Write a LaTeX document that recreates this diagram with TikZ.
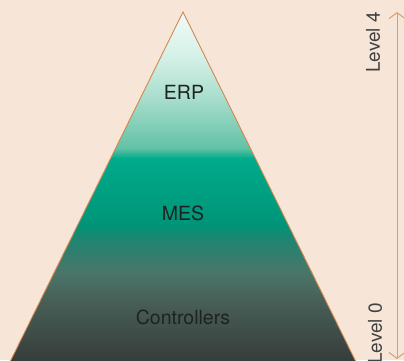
\documentclass[tikz,border=0pt]{standalone}
\usepackage{fontspec}
\setmainfont{TeX Gyre Heros}
\usetikzlibrary{arrows.meta}
\definecolor{bg}{RGB}{247,230,216}
\definecolor{edge}{RGB}{208,136,80}
\definecolor{arr}{RGB}{216,158,110}
\definecolor{txt}{RGB}{30,34,33}
\definecolor{g0}{RGB}{242,251,248}
\definecolor{g1}{RGB}{210,239,229}
\definecolor{g2}{RGB}{165,220,203}
\definecolor{g3}{RGB}{98,194,166}
\definecolor{g4}{RGB}{0,171,140}
\definecolor{g5}{RGB}{0,148,119}
\definecolor{g6}{RGB}{30,133,114}
\definecolor{g7}{RGB}{74,118,105}
\definecolor{g8}{RGB}{72,95,88}
\definecolor{g9}{RGB}{52,56,54}
\tikzset{
  lbl/.style={text=txt, font=\fontsize{19.5}{21}\selectfont, inner sep=0pt},
  lvl/.style={text=txt!85, font=\fontsize{19}{21}\selectfont, inner sep=0pt, rotate=90},
  band/.style={draw=none}
}
\begin{document}
\begin{tikzpicture}[x=1pt,y=-1pt]
\useasboundingbox (0,0) rectangle (404,360);
\fill[bg] (0,0) rectangle (404,360);
\coordinate (apex) at (183,12);
\coordinate (bl) at (7,368);
\coordinate (br) at (359,368);
\begin{scope}
\clip (apex) -- (bl) -- (br) -- cycle;
\shade[band, top color=g0, bottom color=g1] (0,11) rectangle (404,60.5);
\shade[band, top color=g1, bottom color=g2] (0,60) rectangle (404,100.5);
\shade[band, top color=g2, bottom color=g3] (0,100) rectangle (404,148.5);
\shade[band, top color=g3, bottom color=g4] (0,148) rectangle (404,158.5);
\shade[band, top color=g4, bottom color=g5] (0,158) rectangle (404,225.5);
\shade[band, top color=g5, bottom color=g6] (0,225) rectangle (404,238.5);
\shade[band, top color=g6, bottom color=g7] (0,238) rectangle (404,272.5);
\shade[band, top color=g7, bottom color=g8] (0,272) rectangle (404,300.5);
\shade[band, top color=g8, bottom color=g9] (0,300) rectangle (404,370);
\end{scope}
\draw[edge, line width=0.9pt, line join=miter] (bl) -- (apex) -- (br);
\node[lbl] (erp) at (184,92) {ERP};
\node[lbl] (mes) at (183,213) {MES};
\node[lbl] (ctl) at (183,317) {Controllers};
\coordinate (atop) at (397,12);
\coordinate (abot) at (397,359);
\draw[arr, line width=1pt, {Straight Barb[length=6pt,width=16pt]}-{Straight Barb[length=6pt,width=16pt]}] (abot) -- (atop);
\node[lvl, anchor=east] (l4) at (373,12) {Level 4};
\node[lvl, anchor=east] (l0) at (375,303) {Level 0};
\end{tikzpicture}
\end{document}
